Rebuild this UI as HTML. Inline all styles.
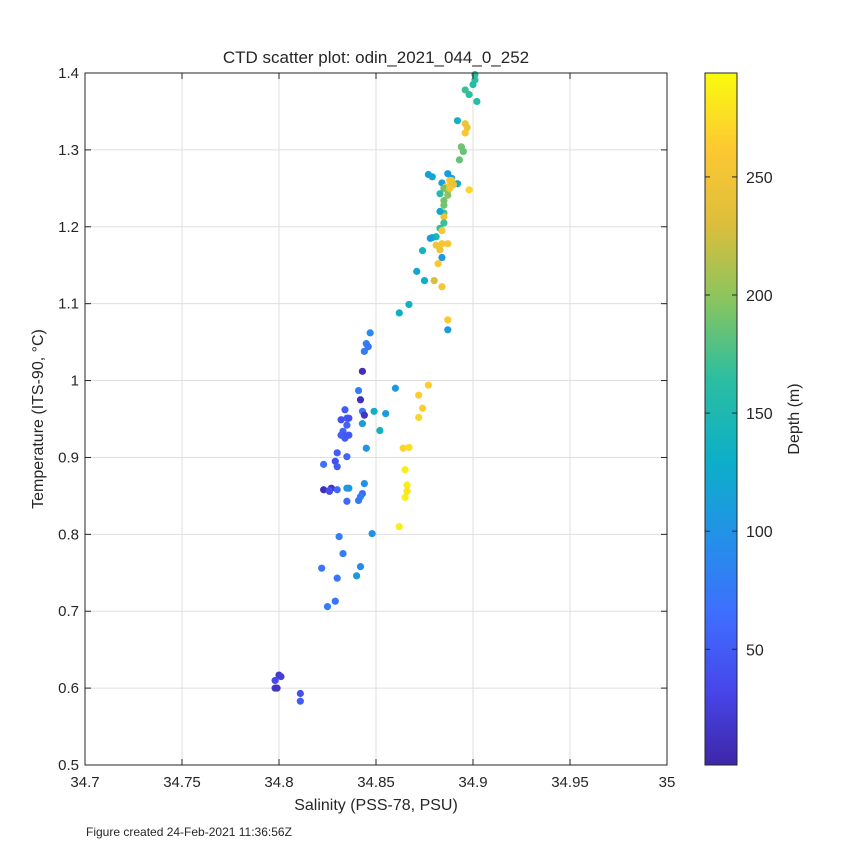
<!DOCTYPE html>
<html><head><meta charset="utf-8"><style>
body{margin:0;background:#fff;font-family:"Liberation Sans",sans-serif}
svg text{font-family:"Liberation Sans",sans-serif;fill:#262626}
</style></head><body>
<svg id="chart" width="851" height="851" xmlns="http://www.w3.org/2000/svg">
<rect width="851" height="851" fill="#fff"/>
<g id="grid"></g><g id="pts"></g><g id="axes"></g>
<defs><linearGradient id="parula" x1="0" y1="1" x2="0" y2="0">
<stop offset="0" stop-color="rgb(62,38,168)"/><stop offset="0.11" stop-color="rgb(71,71,235)"/><stop offset="0.22" stop-color="rgb(62,111,254)"/><stop offset="0.33" stop-color="rgb(35,145,232)"/><stop offset="0.44" stop-color="rgb(12,175,200)"/><stop offset="0.56" stop-color="rgb(45,190,160)"/><stop offset="0.67" stop-color="rgb(135,197,95)"/><stop offset="0.78" stop-color="rgb(220,190,60)"/><stop offset="0.89" stop-color="rgb(253,200,50)"/><stop offset="1" stop-color="rgb(249,251,14)"/></linearGradient></defs>
</svg>
<script>
const salinity=[34.901,34.901,34.900,34.896,34.898,34.902,34.892,34.896,34.897,34.896,34.894,34.895,34.893,34.887,34.892,34.889,34.884,34.879,34.877,34.888,34.889,34.890,34.889,34.886,34.885,34.887,34.883,34.888,34.887,34.885,34.898,34.885,34.885,34.885,34.883,34.885,34.883,34.884,34.881,34.879,34.878,34.881,34.884,34.887,34.883,34.874,34.884,34.882,34.871,34.875,34.880,34.884,34.867,34.862,34.887,34.887,34.847,34.845,34.844,34.846,34.843,34.860,34.877,34.872,34.874,34.872,34.841,34.842,34.843,34.844,34.849,34.855,34.852,34.843,34.834,34.835,34.832,34.836,34.835,34.833,34.834,34.833,34.836,34.832,34.835,34.845,34.867,34.864,34.830,34.829,34.830,34.823,34.865,34.866,34.866,34.865,34.823,34.826,34.827,34.826,34.830,34.836,34.835,34.844,34.843,34.842,34.841,34.835,34.862,34.848,34.831,34.833,34.842,34.840,34.822,34.830,34.825,34.829,34.800,34.801,34.798,34.798,34.799,34.811,34.811];
const temperature=[1.398,1.391,1.385,1.378,1.372,1.363,1.338,1.334,1.329,1.322,1.304,1.298,1.287,1.269,1.256,1.263,1.257,1.265,1.268,1.260,1.260,1.255,1.255,1.252,1.250,1.247,1.243,1.250,1.241,1.234,1.248,1.228,1.218,1.213,1.220,1.205,1.198,1.195,1.187,1.186,1.185,1.176,1.178,1.178,1.170,1.169,1.160,1.152,1.142,1.130,1.130,1.122,1.099,1.088,1.079,1.066,1.062,1.048,1.038,1.044,1.012,0.990,0.994,0.981,0.964,0.952,0.987,0.975,0.960,0.955,0.960,0.957,0.935,0.944,0.962,0.951,0.949,0.951,0.942,0.934,0.925,0.929,0.929,0.929,0.901,0.912,0.913,0.912,0.906,0.895,0.888,0.891,0.884,0.864,0.856,0.848,0.858,0.856,0.860,0.857,0.858,0.860,0.860,0.866,0.853,0.849,0.844,0.843,0.810,0.801,0.797,0.775,0.758,0.746,0.756,0.743,0.706,0.713,0.617,0.615,0.610,0.600,0.600,0.593,0.583];
const depth=[165,165,160,170,165,160,140,250,245,255,190,185,185,110,125,120,115,120,115,260,255,240,245,260,190,200,160,255,200,190,270,190,175,250,120,170,165,255,150,140,110,250,255,255,250,140,110,260,120,130,230,255,135,130,260,110,90,80,80,75,10,110,265,265,265,270,80,10,70,15,135,110,140,110,50,55,40,40,55,55,50,45,45,50,60,100,275,270,50,40,50,70,285,285,280,285,10,20,15,40,60,110,105,100,60,80,75,60,285,100,80,80,90,110,70,70,80,70,20,25,35,20,15,40,50];
const xTicks=[34.7,34.75,34.8,34.85,34.9,34.95,35];
const xTickLabels=["34.7","34.75","34.8","34.85","34.9","34.95","35"];
const yTicks=[0.5,0.6,0.7,0.8,0.9,1,1.1,1.2,1.3,1.4];
const yTickLabels=["0.5","0.6","0.7","0.8","0.9","1","1.1","1.2","1.3","1.4"];
const cTicks=[50,100,150,200,250];
const L=85,R=667,T=73,B=765,CMIN=1,CMAX=294;
const X=v=>L+(v-34.7)/0.3*(R-L), Y=v=>B-(v-0.5)/0.9*(B-T);
const stopPos=[0,0.11,0.22,0.33,0.44,0.56,0.67,0.78,0.89,1];
const stops=[[62,38,168],[71,71,235],[62,111,254],[35,145,232],[12,175,200],[45,190,160],[135,197,95],[220,190,60],[253,200,50],[249,251,14]];
function col(d){let t=Math.max(0,Math.min(1,(d-CMIN)/(CMAX-CMIN)));let i=0;while(i<stopPos.length-2&&t>stopPos[i+1])i++;const f=(t-stopPos[i])/(stopPos[i+1]-stopPos[i]);const a=stops[i],b=stops[i+1];return `rgb(${a.map((v,k)=>Math.round(v+(b[k]-v)*f)).join(',')})`;}
const NS="http://www.w3.org/2000/svg";
function mk(tag,at,p,txt){const e=document.createElementNS(NS,tag);for(const k in at)e.setAttribute(k,at[k]);if(txt!==undefined)e.textContent=txt;p.appendChild(e);return e;}
const grid=document.getElementById('grid'),pts=document.getElementById('pts'),axes=document.getElementById('axes');
mk('rect',{x:L,y:T,width:R-L,height:B-T,fill:'#fff'},grid);
xTicks.forEach((v,i)=>{const g=mk('line',{x1:X(v),x2:X(v),y1:T,y2:B,stroke:'#dfdfdf'},grid);


mk('line',{x1:X(v),x2:X(v),y1:B,y2:B-6,stroke:'#262626'},axes);mk('line',{x1:X(v),x2:X(v),y1:T,y2:T+6,stroke:'#262626'},axes);
const t=mk('text',{x:X(v),y:B+22,'text-anchor':'middle','font-size':15},axes,xTickLabels[i]);

});
yTicks.forEach((v,i)=>{const g=mk('line',{x1:L,x2:R,y1:Y(v),y2:Y(v),stroke:'#dfdfdf'},grid);


mk('line',{x1:L,x2:L+6,y1:Y(v),y2:Y(v),stroke:'#262626'},axes);mk('line',{x1:R,x2:R-6,y1:Y(v),y2:Y(v),stroke:'#262626'},axes);
const t=mk('text',{x:L-6,y:Y(v)+5,'text-anchor':'end','font-size':15},axes,yTickLabels[i]);

});
salinity.forEach((s,i)=>{const c=mk('circle',{cx:X(s),cy:Y(temperature[i]),r:3.6,fill:col(depth[i])},pts);

});
mk('rect',{x:L,y:T,width:R-L,height:B-T,fill:'none',stroke:'#262626'},axes);
const CL=705,CR=737,CY=v=>B-(v-CMIN)/(CMAX-CMIN)*(B-T);
const cb=mk('rect',{x:CL,y:T,width:CR-CL,height:B-T,fill:'url(#parula)',stroke:'#262626'},axes);


cTicks.forEach(v=>{mk('line',{x1:CL,x2:CL+5,y1:CY(v),y2:CY(v),stroke:'#262626'},axes);mk('line',{x1:CR,x2:CR-5,y1:CY(v),y2:CY(v),stroke:'#262626'},axes);
const t=mk('text',{x:CR+9,y:CY(v)+6,'font-size':16},axes,String(v));

});
</script>
<svg style="position:absolute;left:0;top:0" width="851" height="851">
<text x="376" y="63" text-anchor="middle" font-size="17">CTD scatter plot: odin_2021_044_0_252</text>
<text x="376" y="810" text-anchor="middle" font-size="16">Salinity (PSS-78, PSU)</text>
<text transform="translate(43,419) rotate(-90)" text-anchor="middle" font-size="16">Temperature (ITS-90, °C)</text>
<text transform="translate(799,419) rotate(-90)" text-anchor="middle" font-size="16">Depth (m)</text>
<text x="86" y="836" font-size="12" fill="#000">Figure created 24-Feb-2021 11:36:56Z</text>
</svg>
</body></html>
